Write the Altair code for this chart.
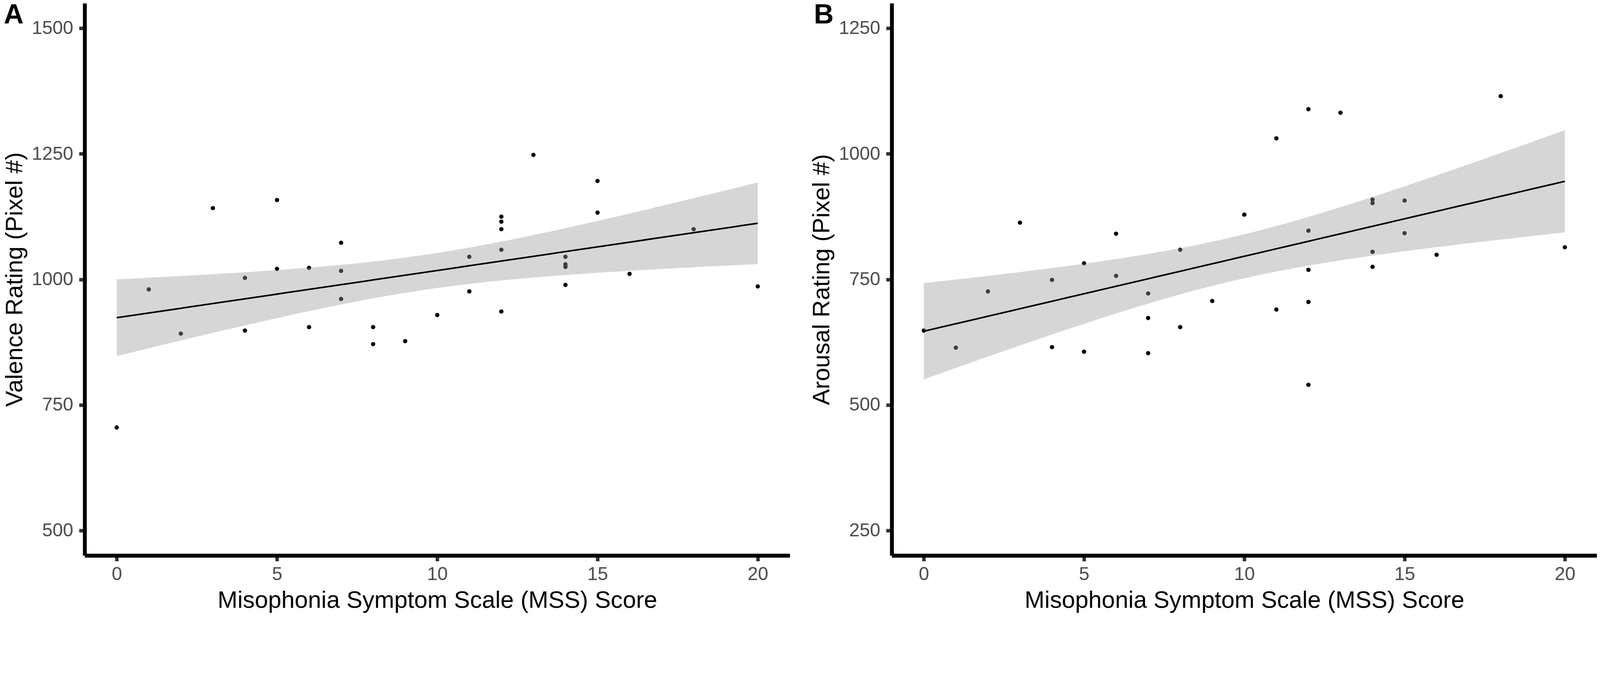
import altair as alt
import numpy as np
import pandas as pd

# ---------------- data ----------------
# Panel A: Valence rating vs MSS score
valence_mss = [0, 1, 2, 3, 4, 4, 5, 5, 6, 6, 7, 7, 7, 8, 8, 9,
               10, 11, 11, 12, 12, 12, 12, 12, 13, 14, 14, 14, 14, 15, 15, 16, 18, 20]
valence_rating = [705, 980, 892, 1142, 1003, 898, 1158, 1021, 1023, 905, 1073, 1017, 961, 905, 871, 877,
                  929, 1045, 976, 1125, 1115, 1100, 1059, 936, 1248, 1045, 1030, 1025, 989, 1196, 1133, 1011, 1100, 986]

# Panel B: Arousal rating vs MSS score
arousal_mss = [0, 1, 2, 3, 4, 4, 5, 5, 6, 6, 7, 7, 7, 8, 8, 9,
               10, 11, 11, 12, 12, 12, 12, 12, 13, 14, 14, 14, 14, 15, 15, 16, 18, 20]
arousal_rating = [648, 614, 726, 863, 749, 615, 782, 606, 841, 757, 722, 673, 603, 809, 655, 707,
                  879, 1031, 690, 1089, 847, 769, 705, 540, 1082, 909, 902, 805, 775, 907, 842, 799, 1115, 814]

x_ticks = [0, 5, 10, 15, 20]
valence_ticks = [500, 750, 1000, 1250, 1500]
arousal_ticks = [250, 500, 750, 1000, 1250]
panel_letters = ["A", "B"]
x_title = "Misophonia Symptom Scale (MSS) Score"
y_titles = ["Valence Rating (Pixel #)", "Arousal Rating (Pixel #)"]

FONT = "Liberation Sans"
T_975_DF32 = 2.0369  # t quantile (0.975, df = n - 2 = 32) for the 95% band


def lm_band(xs, ys, n_grid=81):
    """Ordinary least squares fit with 95% confidence band (as geom_smooth(method='lm'))."""
    x = np.asarray(xs, float)
    y = np.asarray(ys, float)
    n = len(x)
    xm, ym = x.mean(), y.mean()
    sxx = ((x - xm) ** 2).sum()
    b = ((x - xm) * (y - ym)).sum() / sxx
    a = ym - b * xm
    s = np.sqrt(((y - (a + b * x)) ** 2).sum() / (n - 2))
    g = np.linspace(x.min(), x.max(), n_grid)
    fit = a + b * g
    se = s * np.sqrt(1.0 / n + (g - xm) ** 2 / sxx)
    return pd.DataFrame({"x": g, "fit": fit,
                         "lo": fit - T_975_DF32 * se,
                         "hi": fit + T_975_DF32 * se})


def panel(xs, ys, letter, ytitle, ydomain, yticks, letter_x):
    pts = pd.DataFrame({"x": xs, "y": ys})
    band = lm_band(xs, ys)
    xscale = alt.Scale(domain=[-1, 21], nice=False, zero=False)
    yscale = alt.Scale(domain=ydomain, nice=False, zero=False)
    xaxis = alt.Axis(values=x_ticks, title=x_title, format="d")
    yaxis = alt.Axis(values=yticks, title=ytitle, format="d")

    points = alt.Chart(pts).mark_circle(size=150, color="black", opacity=1).encode(
        x=alt.X("x:Q", scale=xscale, axis=xaxis),
        y=alt.Y("y:Q", scale=yscale, axis=yaxis),
    )
    ribbon = alt.Chart(band).mark_area(color="#999999", opacity=0.4).encode(
        x=alt.X("x:Q", scale=xscale, axis=xaxis),
        y=alt.Y("lo:Q", scale=yscale, axis=yaxis),
        y2="hi:Q",
    )
    line = alt.Chart(band).mark_line(color="black", strokeWidth=4.5).encode(
        x=alt.X("x:Q", scale=xscale, axis=xaxis),
        y=alt.Y("fit:Q", scale=yscale, axis=yaxis),
    )
    lab = alt.Chart(alt.Data(values=[{"t": letter}])).mark_text(
        font=FONT, fontSize=78, fontWeight="bold", align="left",
        baseline="alphabetic", color="black"
    ).encode(text="t:N", x=alt.value(letter_x), y=alt.value(57))
    return alt.layer(points, ribbon, line, lab).properties(width=2006, height=1571)


pA = panel(valence_mss, valence_rating, panel_letters[0], y_titles[0],
           [450, 1550], valence_ticks, -230)
pB = panel(arousal_mss, arousal_rating, panel_letters[1], y_titles[1],
           [200, 1300], arousal_ticks, -221.5)

chart = (
    alt.hconcat(pA, pB, spacing=58)
    .properties(padding={"left": 0, "top": -96, "right": 0, "bottom": 0})
    .configure(font=FONT)
    .configure_view(strokeWidth=0)
    .configure_axis(
        grid=False,
        domainColor="black", domainWidth=11,
        tickColor="#333333", tickWidth=10, tickSize=16,
        labelFont=FONT, labelFontSize=53, labelColor="#4D4D4D",
        titleFont=FONT, titleFontSize=68, titleColor="black", titleFontWeight="normal",
    )
    .configure_axisX(labelPadding=12, titlePadding=13)
    .configure_axisY(labelPadding=17, titlePadding=13)
)

chart.save("out.html", embed_options={"renderer": "svg", "actions": False})
